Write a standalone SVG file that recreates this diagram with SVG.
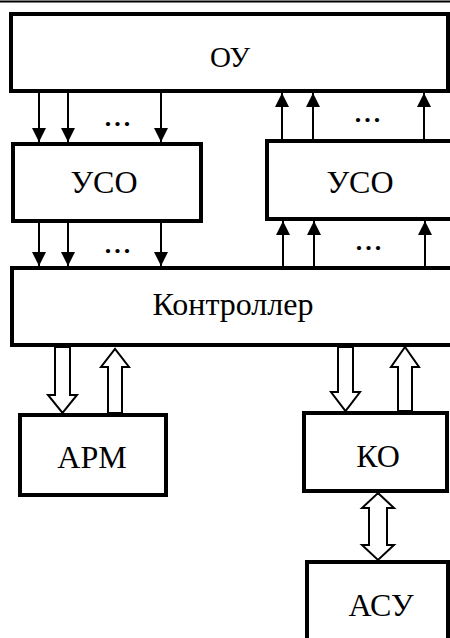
<svg xmlns="http://www.w3.org/2000/svg" width="450" height="638" viewBox="0 0 450 638">
<style>
.box{fill:#fff;stroke:#000;stroke-width:4}
.lbl{font-family:"Liberation Serif","Times New Roman",serif;fill:#000;text-anchor:middle}
.dots{font-family:"Liberation Serif",serif;font-weight:bold;font-size:26px;letter-spacing:3px;text-anchor:middle;fill:#000}
.thin{stroke:#000;stroke-width:2;fill:none}
.fat{fill:#fff;stroke:#000;stroke-width:2;stroke-linejoin:miter}
</style>
<defs>
<marker id="ah2" viewBox="0 0 10 10" refX="10" refY="5" markerWidth="14" markerHeight="14" markerUnits="userSpaceOnUse" orient="auto">
<path d="M0,0 L10,5 L0,10 z" fill="#000"/>
</marker>
</defs>
<line x1="0" y1="1.5" x2="450" y2="1.5" stroke="#000" stroke-width="2"/>
<g id="ou">
<rect class="box" x="11" y="14" width="437" height="77"/>
<text class="lbl" x="230" y="67" font-size="29">ОУ</text>
</g>
<g id="uso1">
<rect class="box" x="13" y="144" width="188" height="77"/>
<text class="lbl" x="104" y="193" font-size="32">УСО</text>
</g>
<g id="uso2">
<rect class="box" x="267" y="141" width="200" height="78"/>
<text class="lbl" x="360" y="193" font-size="32">УСО</text>
</g>
<g id="controller">
<rect class="box" x="12" y="268" width="460" height="77"/>
<text class="lbl" x="233" y="315" font-size="32">Контроллер</text>
</g>
<g id="arm">
<rect class="box" x="20" y="415" width="146" height="80"/>
<text class="lbl" x="92" y="468" font-size="32">АРМ</text>
</g>
<g id="ko">
<rect class="box" x="304" y="413" width="143" height="78"/>
<text class="lbl" x="378" y="467" font-size="32">КО</text>
</g>
<g id="asu">
<rect class="box" x="307" y="562" width="141" height="90"/>
<text class="lbl" x="381" y="616" font-size="32">АСУ</text>
</g>
<g id="connectors">
<g class="thin" marker-end="url(#ah2)">
<line x1="39" y1="93" x2="39" y2="142"/>
<line x1="68" y1="93" x2="68" y2="142"/>
<line x1="161" y1="93" x2="161" y2="142"/>
<line x1="282" y1="139" x2="282" y2="93"/>
<line x1="313" y1="139" x2="313" y2="93"/>
<line x1="424" y1="139" x2="424" y2="93"/>
<line x1="39" y1="223" x2="39" y2="266"/>
<line x1="68" y1="223" x2="68" y2="266"/>
<line x1="161" y1="223" x2="161" y2="266"/>
<line x1="283" y1="266" x2="283" y2="221"/>
<line x1="314" y1="266" x2="314" y2="221"/>
<line x1="425" y1="266" x2="425" y2="221"/>
</g>
<text class="dots" x="119" y="126">...</text>
<text class="dots" x="369" y="122">...</text>
<text class="dots" x="119" y="253">...</text>
<text class="dots" x="370" y="250">...</text>
<path class="fat" d="M55,347 L70,347 L70,395 L77,395 L62.5,413 L48,395 L55,395 Z"/>
<path class="fat" d="M108,413 L122,413 L122,367 L129,367 L115,349 L101,367 L108,367 Z"/>
<path class="fat" d="M338,347 L353,347 L353,392 L360,392 L345.5,411 L331,392 L338,392 Z"/>
<path class="fat" d="M398,411 L412,411 L412,367 L419,367 L405,347 L391,367 L398,367 Z"/>
<path class="fat" d="M378,493 L394,508 L387,508 L387,545 L394,545 L378,560 L362,545 L369,545 L369,508 L362,508 Z"/>
</g>
</svg>
